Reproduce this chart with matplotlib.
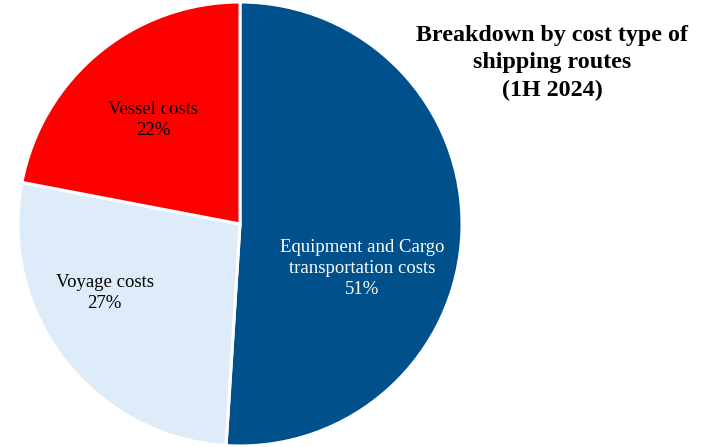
import numpy as np
import matplotlib.pyplot as plt

categories = ['Equipment and Cargo\ntransportation costs', 'Voyage costs', 'Vessel costs']
shares = [51, 27, 22]
colors = ['#00508c', '#deebf9', '#ff0000']
text_colors = ['white', 'black', 'black']
# label centres in pie units (radius = 1)
label_pos = [(0.55, -0.20), (-0.61, -0.31), (-0.39, 0.47)]

plt.rcParams['font.family'] = ['Liberation Serif', 'DejaVu Serif']

fig = plt.figure(figsize=(7.08, 4.47), dpi=100)
ax = fig.add_axes([18 / 708, 1 / 447, 444 / 708, 444 / 447])

ax.pie(shares, colors=colors, startangle=90, counterclock=False,
       wedgeprops=dict(edgecolor='white', linewidth=2.2))

for cat, val, pos, tc in zip(categories, shares, label_pos, text_colors):
    ax.text(pos[0], pos[1], f'{cat}\n{val}%', ha='center', va='center',
            fontsize=13.5, color=tc, linespacing=1.3)

ax.set_xlim(-1, 1)
ax.set_ylim(-1, 1)
ax.set_aspect('equal')

fig.text(552 / 708, 1 - 63 / 447, 'Breakdown by cost type of\nshipping routes\n(1H 2024)',
         ha='center', va='center', fontsize=17.3, fontweight='bold', linespacing=1.38)

fig.savefig('out.png', dpi=100)
